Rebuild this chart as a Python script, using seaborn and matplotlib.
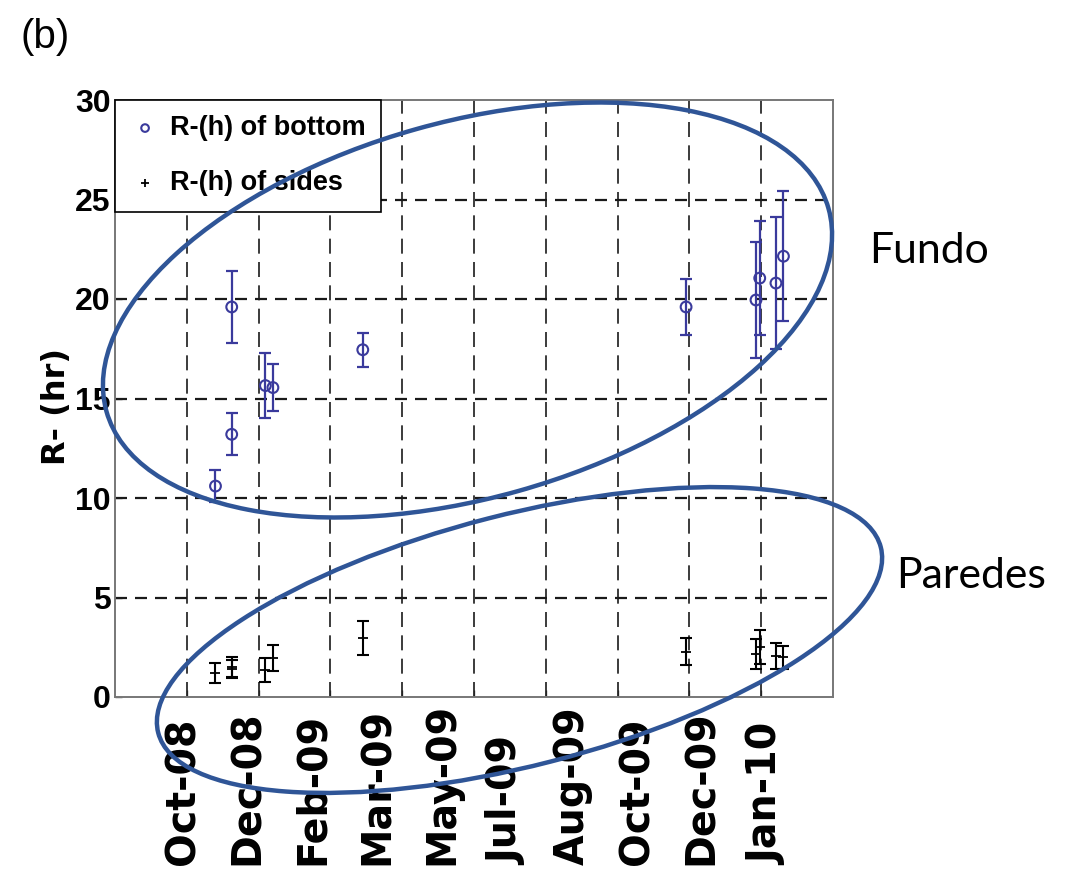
import numpy as np
import pandas as pd
import matplotlib
matplotlib.use("Agg")
import matplotlib.pyplot as plt
import matplotlib.dates as mdates
from matplotlib.patches import Ellipse
from matplotlib.transforms import Affine2D
from matplotlib.ticker import FixedLocator
import seaborn as sns

# ---- data -------------------------------------------------------------
sample_dates = ["2008-11-15", "2008-11-28", "2008-11-28", "2008-12-25", "2008-12-31",
                "2009-03-13", "2009-11-27", "2010-01-22", "2010-01-25", "2010-02-07",
                "2010-02-13"]
bottom_r = [10.6, 13.2, 19.6, 15.65, 15.55, 17.45, 19.6, 19.95, 21.05, 20.8, 22.15]
bottom_err = [0.8, 1.05, 1.8, 1.65, 1.2, 0.85, 1.4, 2.9, 2.85, 3.3, 3.27]
sides_r = [1.2, 1.5, 1.4, 1.35, 1.95, 2.95, 2.28, 2.15, 2.5, 2.05, 2.0]
sides_err = [0.5, 0.5, 0.45, 0.62, 0.65, 0.86, 0.67, 0.75, 0.85, 0.65, 0.57]

tick_dates = pd.date_range("2008-10-20", periods=10, freq="52D")
tick_labels = ["Oct-08", "Dec-08", "Feb-09", "Mar-09", "May-09",
               "Jul-09", "Aug-09", "Oct-09", "Dec-09", "Jan-10"]
y_ticks = [0, 5, 10, 15, 20, 25, 30]
series_labels = ["R-(h) of bottom", "R-(h) of sides"]

# ---- styling ----------------------------------------------------------
sns.set_theme(style="white")
plt.rcParams["font.family"] = ["Liberation Sans", "DejaVu Sans"]
plt.rcParams.update({"text.color": "black", "axes.labelcolor": "black",
                     "xtick.color": "black", "ytick.color": "black"})
BLUE = "#3a3a9c"
RING = "#2f5597"

W, H = 1066, 876
fig = plt.figure(figsize=(W / 100, H / 100), dpi=100)
ax = fig.add_axes([115 / W, (H - 697) / H, 718 / W, 597 / H])

df = pd.DataFrame({
    "date": pd.to_datetime(sample_dates),
    "bottom": bottom_r, "bottom_err": bottom_err,
    "sides": sides_r, "sides_err": sides_err,
})
xnum = mdates.date2num(df["date"])

# x range split into ten equal grid cells
x0 = mdates.date2num(pd.Timestamp("2008-08-26 12:00"))
x1 = x0 + 575.2
ax.set_xlim(x0, x1)
ax.set_ylim(0, 30)

# error bars
ax.errorbar(xnum, df["bottom"], yerr=df["bottom_err"], fmt="none",
            ecolor=BLUE, elinewidth=1.6, capsize=4.2, capthick=1.6, zorder=3)
ax.errorbar(xnum, df["sides"], yerr=df["sides_err"], fmt="none",
            ecolor="black", elinewidth=1.5, capsize=4.2, capthick=1.5, zorder=3)

# markers
sns.scatterplot(x=xnum, y=df["bottom"], marker="o", s=60, facecolor="none",
                edgecolor=BLUE, linewidth=1.5, label=series_labels[0], ax=ax, zorder=4)
sns.scatterplot(x=xnum, y=df["sides"], marker="+", s=45, color="black",
                linewidth=1.3, label=series_labels[1], ax=ax, zorder=4)

# grid: dashed lines at each y tick and at the ten x cells
grid_x = np.linspace(x0, x1, 11)[1:-1]
for gx in grid_x:
    ax.axvline(gx, color="#1a1a1a", lw=1.2, ls=(0, (9, 5)), zorder=1)
for gy in y_ticks[1:-1]:
    ax.axhline(gy, color="#1a1a1a", lw=1.6, ls=(0, (5.4, 3.6)), zorder=1)

# ticks
ax.set_yticks(y_ticks)
ax.set_yticklabels([str(v) for v in y_ticks])
ax.xaxis.set_minor_locator(FixedLocator(grid_x))
ax.set_xticks(mdates.date2num(tick_dates))
ax.set_xticklabels(tick_labels, rotation=90)
# month labels start from a common line below the axis
ax.tick_params(axis="x", which="major", length=0, pad=121)
ax.tick_params(axis="x", which="minor", direction="in", length=5, width=1,
               color="#555555", bottom=True, top=False)
ax.tick_params(axis="y", which="major", direction="in", length=5, width=1,
               color="#555555", left=True, pad=3)
for lbl in ax.get_xticklabels():
    lbl.set_fontfamily("DejaVu Sans")
    lbl.set_fontweight("bold")
    lbl.set_fontsize(28.5)
    lbl.set_va("bottom")
for lbl in ax.get_yticklabels():
    lbl.set_fontweight("bold")
    lbl.set_fontsize(23)

ax.set_xlabel("")
ax.set_ylabel("R- (hr)", fontfamily="DejaVu Sans", fontweight="bold", fontsize=23)
ax.yaxis.label.set_va("center")
ax.yaxis.set_label_coords(-0.082, 0.486)

for sp in ax.spines.values():
    sp.set_color("#777777")
    sp.set_linewidth(1.4)
    sp.set_visible(True)

leg = ax.legend(loc="upper left", borderaxespad=0, frameon=True, fancybox=False,
                framealpha=1, edgecolor="black", prop={"weight": "bold", "size": 19.5},
                handlelength=1.1, handletextpad=0.38, labelspacing=1.08,
                borderpad=0.56, scatterpoints=1)
leg.get_frame().set_linewidth(1.2)
for h in leg.legend_handles:
    h.set_sizes([30])
leg.set_zorder(5)

# panel letter
fig.text(20 / W, 1 - 37 / H, "(b)", fontsize=29, ha="left", va="center")

# highlighted groups
px = Affine2D().scale(1 / W, 1 / H) + fig.transFigure
fig.add_artist(Ellipse((467.5, H - 310), width=750, height=376, angle=15.7,
                       transform=px, fill=False, ec=RING, lw=3.2, zorder=10))
fig.add_artist(Ellipse((519.5, H - 640), width=746, height=251, angle=14.4,
                       transform=px, fill=False, ec=RING, lw=3.2, zorder=10))
fig.text(869 / W, 1 - 263 / H, "Fundo", fontfamily="Lato", fontsize=30.8,
         ha="left", va="baseline", color="black")
fig.text(896 / W, 1 - 588 / H, "Paredes", fontfamily="Lato", fontsize=30.8,
         ha="left", va="baseline", color="black")

fig.savefig("out.png", dpi=100, facecolor="white")
